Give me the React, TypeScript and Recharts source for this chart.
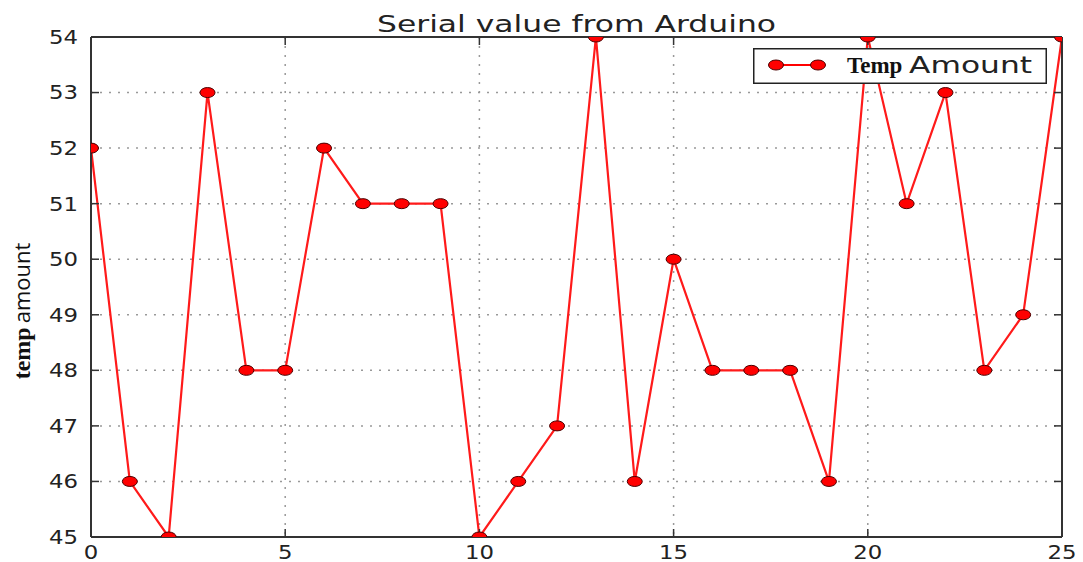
import React from 'react';
import { LineChart, Line, XAxis, YAxis, CartesianGrid, Legend } from 'recharts';

const xValues = [0, 1, 2, 3, 4, 5, 6, 7, 8, 9, 10, 11, 12, 13, 14, 15, 16, 17, 18, 19, 20, 21, 22, 23, 24, 25];
const tempValues = [52, 46, 45, 53, 48, 48, 52, 51, 51, 51, 45, 46, 47, 54, 46, 50, 48, 48, 48, 46, 54, 51, 53, 48, 49, 54];
const xTicks = [0, 5, 10, 15, 20, 25];
const yTicks = [45, 46, 47, 48, 49, 50, 51, 52, 53, 54];
const chartTitle = 'Serial value from Arduino';
const yLabelBold = 'temp';
const yLabelRest = 'amount';
const seriesBold = 'Temp';
const seriesRest = 'Amount';

const data = xValues.map((x, i) => ({ x, temp: tempValues[i] }));

const TICK_FONT = 'DejaVu Sans, sans-serif';
const FRAME = '#333';

const renderDot = (props: any) => {
  const { cx, cy, index } = props;
  return <ellipse key={`dot-${index}`} cx={cx} cy={cy} rx={7.5} ry={5} fill="#ff0000" stroke="#4a0000" strokeWidth={1} />;
};

const LeftTick = (props: any) => {
  const { x, y, payload } = props;
  return (
    <g transform={`translate(${x},${y}) scale(1.2,1)`}>
      <text x={0} y={0} dy="0.36em" textAnchor="end" fontSize={19} fontFamily={TICK_FONT} fill="#222">
        {payload.value}
      </text>
    </g>
  );
};

const BottomTick = (props: any) => {
  const { x, y, payload } = props;
  return (
    <g transform={`translate(${x},${y}) scale(1.2,1)`}>
      <text x={0} y={0} dy="0.72em" textAnchor="middle" fontSize={19} fontFamily={TICK_FONT} fill="#222">
        {payload.value}
      </text>
    </g>
  );
};

const EmptyTick = () => <g />;

const TitleLabel = (props: any) => {
  const { viewBox } = props;
  const cx = viewBox.x + viewBox.width / 2;
  return (
    <text x={cx} y={32} textAnchor="middle" fontSize={23} fontFamily={TICK_FONT} fill="#222" textLength={399} lengthAdjust="spacingAndGlyphs">
      {chartTitle}
    </text>
  );
};

const YLabel = (props: any) => {
  const { viewBox } = props;
  const x = viewBox.x + 24;
  const y = viewBox.y + viewBox.height / 2 + 24;
  return (
    <text transform={`translate(${x},${y}) rotate(-90)`} textAnchor="middle" dy="0.35em" fill="#111">
      <tspan fontFamily="Liberation Serif, serif" fontWeight="bold" fontSize={24}>{yLabelBold}</tspan>
      <tspan fontFamily="Open Sans, Liberation Sans, sans-serif" fontSize={22} dx={4}>{yLabelRest}</tspan>
    </text>
  );
};

const LegendContent = () => (
  <svg width={294} height={36} style={{ display: 'block' }}>
    <rect x={0.75} y={0.75} width={292.5} height={34.5} fill="#fff" stroke="#222" strokeWidth={1.5} />
    <line x1={23} y1={17} x2={65} y2={17} stroke="#ff0000" strokeWidth={2} />
    <ellipse cx={23} cy={17} rx={7.5} ry={5} fill="#ff0000" stroke="#4a0000" strokeWidth={1} />
    <ellipse cx={65} cy={17} rx={7.5} ry={5} fill="#ff0000" stroke="#4a0000" strokeWidth={1} />
    <text x={94} y={25} fontSize={23} fontFamily="Liberation Serif, serif" fontWeight="bold" fill="#111">{seriesBold}</text>
    <text x={156} y={25} fontSize={23} fontFamily={TICK_FONT} fill="#222" textLength={123} lengthAdjust="spacingAndGlyphs">{seriesRest}</text>
  </svg>
);

export default function App() {
  return (
    <div style={{ position: 'absolute', left: 0, top: 0, width: 1083, height: 562, background: '#fff' }}>
      <LineChart width={1083} height={562} data={data} margin={{ top: 0, right: 0, left: 0, bottom: 0 }}>
        <CartesianGrid stroke="#999" strokeDasharray="2 7" strokeWidth={1.5} />
        <XAxis
          dataKey="x"
          type="number"
          domain={[0, 25]}
          ticks={xTicks}
          allowDataOverflow
          height={25}
          tickSize={-8}
          tickMargin={16}
          tick={BottomTick}
          axisLine={{ stroke: FRAME, strokeWidth: 2 }}
          tickLine={{ stroke: FRAME, strokeWidth: 1.5 }}
        />
        <XAxis
          xAxisId="top"
          orientation="top"
          dataKey="x"
          type="number"
          domain={[0, 25]}
          ticks={xTicks}
          allowDataOverflow
          height={37}
          tickSize={-8}
          tickMargin={0}
          tick={EmptyTick}
          axisLine={{ stroke: FRAME, strokeWidth: 2 }}
          tickLine={{ stroke: FRAME, strokeWidth: 1.5 }}
          label={{ content: TitleLabel }}
        />
        <YAxis
          type="number"
          domain={[45, 54]}
          ticks={yTicks}
          allowDataOverflow
          width={91}
          tickSize={-8}
          tickMargin={21}
          tick={LeftTick}
          axisLine={{ stroke: FRAME, strokeWidth: 2 }}
          tickLine={{ stroke: FRAME, strokeWidth: 1.5 }}
          label={{ content: YLabel }}
        />
        <YAxis
          yAxisId="right"
          orientation="right"
          type="number"
          domain={[45, 54]}
          ticks={yTicks}
          allowDataOverflow
          width={21}
          tickSize={-8}
          tickMargin={0}
          tick={EmptyTick}
          axisLine={{ stroke: FRAME, strokeWidth: 2 }}
          tickLine={{ stroke: FRAME, strokeWidth: 1.5 }}
        />
        <Legend
          layout="vertical"
          align="center"
          verticalAlign="middle"
          wrapperStyle={{ left: 753, top: 48, width: 294, height: 36 }}
          content={LegendContent}
        />
        <Line
          type="linear"
          dataKey="temp"
          name="Temp Amount"
          stroke="#ff1a1a"
          strokeWidth={2.2}
          dot={renderDot}
          activeDot={false}
          isAnimationActive={false}
        />
      </LineChart>
    </div>
  );
}
